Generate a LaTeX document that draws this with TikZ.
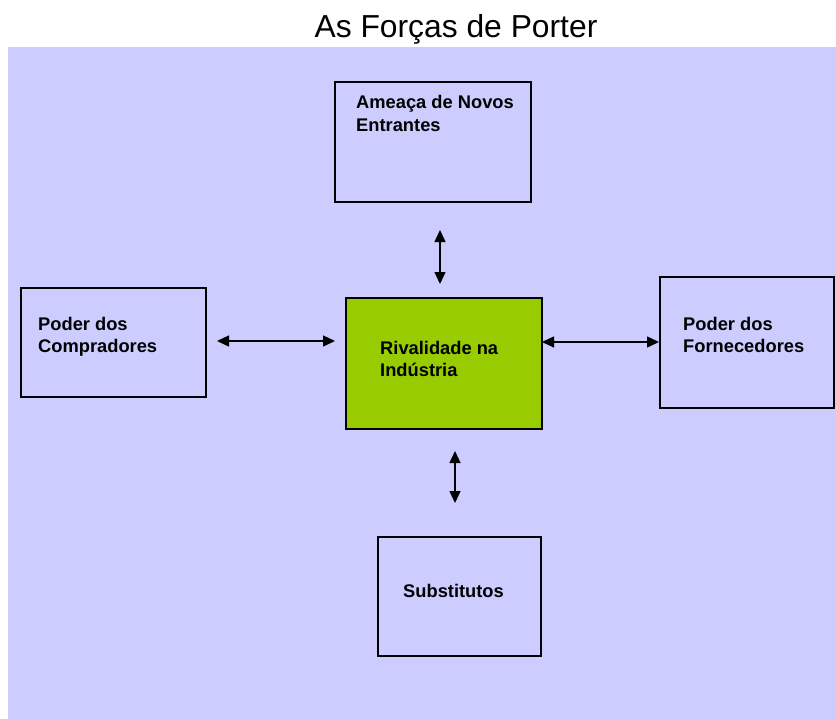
\documentclass[tikz,border=0pt]{standalone}
\usepackage{fontspec}
\setmainfont{Liberation Sans}
\usetikzlibrary{arrows.meta}
\definecolor{panel}{HTML}{CCCCFF}
\definecolor{rival}{HTML}{99CC00}
\begin{document}
\begin{tikzpicture}[x=1bp,y=-1bp,
  force/.style={draw=black, line width=1.2bp, rectangle, inner sep=0pt, outer sep=0pt},
  forcetext/.style={font=\bfseries\fontsize{18.3bp}{22.5bp}\selectfont, align=left, inner sep=0pt, anchor=base west},
  biarrow/.style={line width=1.4bp, {Triangle[length=12bp,width=11bp]}-{Triangle[length=12bp,width=11bp]}}]
\useasboundingbox (0,0) rectangle (836,719);
% background panel
\fill[panel] (8,47) rectangle (836,719);
% title
\node[font=\fontsize{31.8bp}{36bp}\selectfont, anchor=base, inner sep=0pt] (title) at (456,38) {As Forças de Porter};

% the five forces
\node[force, minimum width=196bp, minimum height=120bp] (entrants) at (433,142) {};
\node[force, minimum width=185bp, minimum height=109bp] (buyers) at (113.5,342.5) {};
\node[force, fill=rival, minimum width=196bp, minimum height=131bp] (rivalry) at (444,363.5) {};
\node[force, minimum width=174bp, minimum height=131bp] (suppliers) at (747,342.5) {};
\node[force, minimum width=163bp, minimum height=119bp] (substitutes) at (459.5,596.5) {};

% box labels (anchored at the baseline of the last line)
\node[forcetext] (entrantsT) at (356,131.5) {Ameaça de Novos\\Entrantes};
\node[forcetext] (buyersT) at (38,352.5) {Poder dos\\Compradores};
\node[forcetext] (rivalryT) at (380,376.5) {Rivalidade na\\Indústria};
\node[forcetext] (suppliersT) at (683,352.5) {Poder dos\\Fornecedores};
\node[forcetext] (substitutesT) at (403,597) {Substitutos};

% arrow end points
\coordinate (bA) at (217,341);
\coordinate (bB) at (335,341);
\coordinate (sA) at (542,342);
\coordinate (sB) at (659,342);
\coordinate (eA) at (440,230);
\coordinate (eB) at (440,284);
\coordinate (uA) at (455,451);
\coordinate (uB) at (455,503);

\draw[biarrow] (bA) -- (bB);
\draw[biarrow] (sA) -- (sB);
\draw[biarrow] (eA) -- (eB);
\draw[biarrow] (uA) -- (uB);
\end{tikzpicture}
\end{document}
